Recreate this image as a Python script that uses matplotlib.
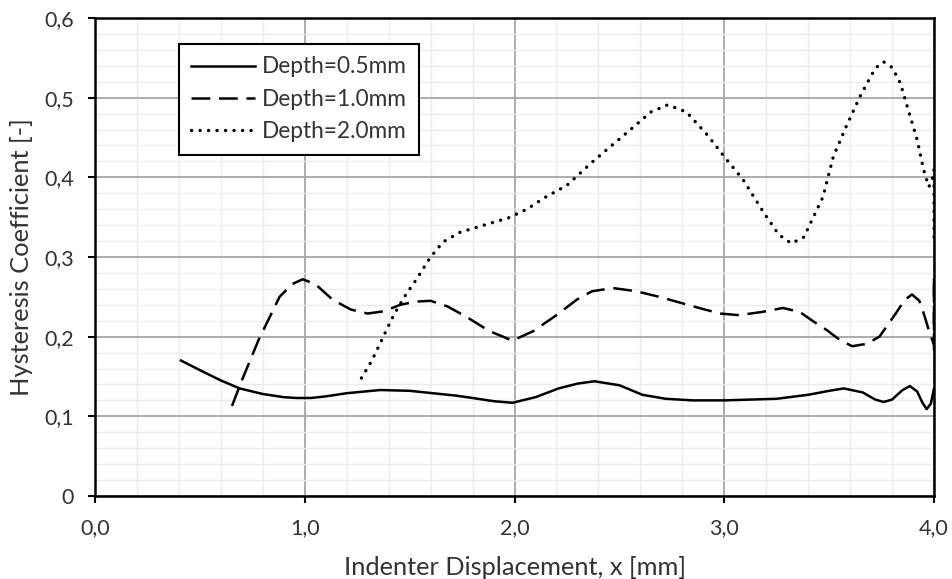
import matplotlib.pyplot as plt
from matplotlib.ticker import MultipleLocator, FuncFormatter

# Datos (desplazamiento en mm, coeficiente de histeresis)
x_05 = [0.41, 0.5, 0.6, 0.69, 0.8, 0.9, 0.96, 1.03, 1.1, 1.2, 1.36, 1.5, 1.61, 1.72,
        1.8, 1.9, 1.99, 2.1, 2.21, 2.3, 2.38, 2.5, 2.61, 2.72, 2.85, 3.0, 3.25, 3.4,
        3.5, 3.57, 3.66, 3.72, 3.76, 3.8, 3.85, 3.885, 3.92, 3.945, 3.965, 3.985, 4.0]
y_05 = [0.170, 0.158, 0.145, 0.135, 0.128, 0.124, 0.123, 0.123, 0.125, 0.129, 0.133,
        0.132, 0.129, 0.126, 0.123, 0.119, 0.117, 0.124, 0.135, 0.141, 0.144, 0.139,
        0.127, 0.122, 0.120, 0.120, 0.122, 0.127, 0.132, 0.135, 0.130, 0.121, 0.118,
        0.121, 0.133, 0.138, 0.131, 0.117, 0.109, 0.116, 0.135]

x_10 = [0.653, 0.70, 0.78, 0.88, 0.94, 0.99, 1.05, 1.135, 1.22, 1.30, 1.38, 1.455,
        1.53, 1.60, 1.68, 1.77, 1.88, 1.99, 2.09, 2.20, 2.30, 2.37, 2.47, 2.58, 2.69,
        2.88, 2.98, 3.07, 3.18, 3.28, 3.36, 3.42, 3.49, 3.55, 3.61, 3.68, 3.74, 3.82,
        3.86, 3.895, 3.93, 3.95, 3.98, 4.0, 4.0, 4.0]
y_10 = [0.113, 0.145, 0.196, 0.250, 0.266, 0.272, 0.266, 0.246, 0.234, 0.229, 0.232,
        0.240, 0.244, 0.245, 0.238, 0.225, 0.207, 0.195, 0.207, 0.227, 0.247, 0.257,
        0.261, 0.257, 0.250, 0.236, 0.229, 0.227, 0.231, 0.236, 0.231, 0.220, 0.208,
        0.196, 0.188, 0.191, 0.200, 0.230, 0.246, 0.253, 0.245, 0.230, 0.204, 0.190,
        0.275, 0.183]

x_20 = [1.27, 1.32, 1.36, 1.42, 1.47, 1.53, 1.60, 1.66, 1.74, 1.88, 1.97, 2.06, 2.14,
        2.25, 2.37, 2.45, 2.54, 2.65, 2.73, 2.82, 2.92, 3.0, 3.09, 3.19, 3.26, 3.32,
        3.38, 3.41, 3.47, 3.52, 3.58, 3.65, 3.72, 3.76, 3.80, 3.84, 3.88, 3.92, 3.95,
        3.975, 3.99, 4.0, 4.0]
y_20 = [0.148, 0.170, 0.192, 0.225, 0.248, 0.271, 0.300, 0.319, 0.331, 0.342, 0.349,
        0.360, 0.374, 0.390, 0.419, 0.437, 0.457, 0.482, 0.491, 0.482, 0.453, 0.426,
        0.397, 0.355, 0.328, 0.317, 0.325, 0.342, 0.375, 0.426, 0.463, 0.503, 0.537,
        0.545, 0.538, 0.518, 0.482, 0.447, 0.410, 0.388, 0.395, 0.410, 0.320]

etiquetas = ["Depth=0.5mm", "Depth=1.0mm", "Depth=2.0mm"]

plt.rcParams['font.family'] = ['Lato', 'DejaVu Sans']

fig = plt.figure(figsize=(9.52, 5.79), dpi=100)
ax = fig.add_axes([0.0998, 0.1434, 0.8813, 0.8255])

ax.plot(x_05, y_05, color='black', lw=1.8, solid_joinstyle='round', label=etiquetas[0])
ax.plot(x_10, y_10, color='black', lw=1.8, linestyle=(0, (7.5, 3.5)), label=etiquetas[1])
ax.plot(x_20, y_20, color='black', lw=2.4, linestyle=(0, (0.05, 2.5)),
        dash_capstyle='round', label=etiquetas[2])

ax.set_xlim(0, 4.0)
ax.set_ylim(0, 0.6)

# Rejilla mayor y menor
ax.xaxis.set_major_locator(MultipleLocator(1.0))
ax.xaxis.set_minor_locator(MultipleLocator(0.2))
ax.yaxis.set_major_locator(MultipleLocator(0.1))
ax.yaxis.set_minor_locator(MultipleLocator(0.02))
ax.grid(which='minor', color='#ebebeb', lw=1.0)
ax.grid(which='major', color='#a6a6a6', lw=1.3)
ax.set_axisbelow(True)

ax.xaxis.set_major_formatter(FuncFormatter(lambda v, p: f"{v:.1f}".replace('.', ',')))
ax.yaxis.set_major_formatter(FuncFormatter(
    lambda v, p: "0" if abs(v) < 1e-9 else f"{v:.1f}".replace('.', ',')))

ax.tick_params(which='major', direction='out', length=5, width=1.5, labelsize=15.5,
               colors='black', labelcolor='#333333')
ax.tick_params(axis='y', pad=10)
ax.tick_params(axis='x', pad=11)
ax.tick_params(which='minor', length=0)

for lado in ['left', 'bottom', 'top', 'right']:
    ax.spines[lado].set_linewidth(1.8)
    ax.spines[lado].set_color('black')

ax.set_xlabel("Indenter Displacement, x [mm]", fontsize=18.3, color='#333333', labelpad=13)
ax.set_ylabel("Hysteresis Coefficient [-]", fontsize=18.3, color='#333333', labelpad=8)

leg = ax.legend(loc='upper left', bbox_to_anchor=(0.1001, 0.9456), fontsize=16.3,
                frameon=True, fancybox=False, handlelength=2.8, handletextpad=0.31,
                borderpad=0.55, labelspacing=0.5, borderaxespad=0)
leg.get_frame().set_edgecolor('black')
leg.get_frame().set_linewidth(1.5)
leg.get_frame().set_alpha(1)
for t in leg.get_texts():
    t.set_color('#333333')

fig.savefig("out.png", dpi=100)
